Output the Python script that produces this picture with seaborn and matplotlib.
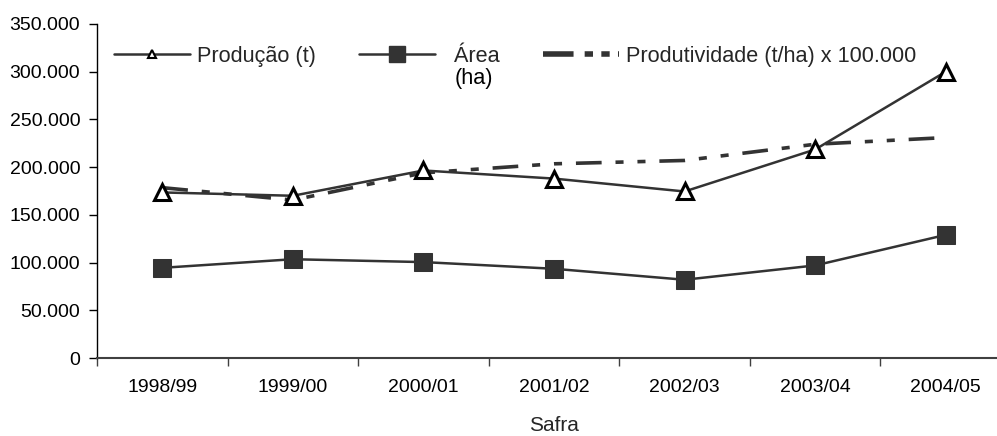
import numpy as np
import pandas as pd
import matplotlib
matplotlib.use("Agg")
import matplotlib.pyplot as plt
import seaborn as sns
from matplotlib.lines import Line2D
from matplotlib.ticker import FuncFormatter, FixedLocator
from matplotlib.transforms import IdentityTransform

# ---- data ----
safras = ["1998/99", "1999/00", "2000/01", "2001/02", "2002/03", "2003/04", "2004/05"]
producao = [173500, 170000, 196500, 188000, 174500, 218500, 300000]
area = [94500, 103500, 100500, 93500, 82000, 97000, 129000]
produtividade = [178500, 165500, 194000, 203500, 207000, 224000, 231000]
labels = ["Produção (t)", "Área", "Produtividade (t/ha) x 100.000"]
area_unit = "(ha)"
yticks = [0, 50000, 100000, 150000, 200000, 250000, 300000, 350000]

sns.set_style("white")
plt.rcParams["font.family"] = ["Liberation Sans", "DejaVu Sans"]
plt.rcParams["lines.scale_dashes"] = False

W, H = 997, 436
fig = plt.figure(figsize=(W / 100, H / 100), dpi=100)
ax = fig.add_axes([97 / W, 78 / H, 914 / W, 334 / H])

df = pd.DataFrame({"Safra": safras, "prod": producao, "area": area, "pt": produtividade})

dash = (0, (18.5, 10, 5.8, 10, 5.8, 10))
line_c = "#333333"

sns.lineplot(data=df, x="Safra", y="pt", ax=ax, color=line_c, lw=2.6,
             linestyle=dash, solid_capstyle="butt", dash_capstyle="butt",
             sort=False, zorder=2)
sns.lineplot(data=df, x="Safra", y="area", ax=ax, color=line_c, lw=1.8,
             marker="s", markersize=12.5, markerfacecolor=line_c,
             markeredgecolor=line_c, sort=False, zorder=3)
sns.lineplot(data=df, x="Safra", y="prod", ax=ax, color=line_c, lw=1.8,
             marker="^", markersize=11, markerfacecolor="white",
             markeredgecolor="black", markeredgewidth=2.2, sort=False, zorder=4)

n = len(safras)
ax.set_xlim(-0.5, n - 0.5)
ax.set_ylim(0, 350000)

for s in ["top", "right"]:
    ax.spines[s].set_visible(False)
ax.spines["left"].set_color("black")
ax.spines["left"].set_linewidth(1.0)
ax.spines["bottom"].set_color("#404040")
ax.spines["bottom"].set_linewidth(1.5)

ax.set_xticks(range(n))
ax.set_xticklabels(safras)
ax.xaxis.set_minor_locator(FixedLocator([i - 0.5 for i in range(n + 1)]))
ax.tick_params(axis="x", which="major", length=0, pad=15, labelsize=14, colors="black")
ax.tick_params(axis="x", which="minor", length=6, width=1, direction="out", color="#404040", bottom=True)

ax.set_yticks(yticks)
ax.yaxis.set_major_formatter(FuncFormatter(lambda v, p: f"{int(v):,}".replace(",", ".")))
ax.tick_params(axis="y", which="major", length=6, width=1, direction="out", pad=6,
               labelsize=14, colors="black", left=True)

ax.set_ylabel("")
ax.set_xlabel("Safra", fontsize=15)
ax.xaxis.set_label_coords(0.5, -(425 - 358) / 334)
ax.xaxis.label.set_va("center")

handles = [
    Line2D([], [], color=line_c, lw=1.8, marker="^", markersize=6,
           markerfacecolor="white", markeredgecolor="black", markeredgewidth=1.5),
    Line2D([], [], color=line_c, lw=1.8, marker="s", markersize=12,
           markerfacecolor=line_c, markeredgecolor=line_c),
    Line2D([], [], color=line_c, lw=4, linestyle=(0, (22, 8, 6, 6, 6, 6)),
           dash_capstyle="butt"),
]
leg_labels = [labels[0], "  " + labels[1], labels[2]]
fs_leg = 15.6
leg = ax.legend(handles, leg_labels, loc="upper left", bbox_to_anchor=(114 / W, 1 - 46 / H),
                bbox_transform=fig.transFigure, ncol=3, frameon=False, fontsize=fs_leg,
                handlelength=3.5, handletextpad=0.33, columnspacing=2.0,
                borderpad=0, borderaxespad=0, numpoints=1)

fig.canvas.draw()
renderer = fig.canvas.get_renderer()
t_full = fig.text(0, 0, leg_labels[1], fontsize=fs_leg)
t_word = fig.text(0, 0, labels[1], fontsize=fs_leg)
shift = t_full.get_window_extent(renderer).width - t_word.get_window_extent(renderer).width
t_full.remove()
t_word.remove()
bb = leg.get_texts()[1].get_window_extent(renderer)
fig.text(bb.x0 + shift, bb.y0 - 1, area_unit, transform=IdentityTransform(), fontsize=fs_leg,
         va="top", ha="left", color="black")

fig.savefig("out.png", dpi=100)
